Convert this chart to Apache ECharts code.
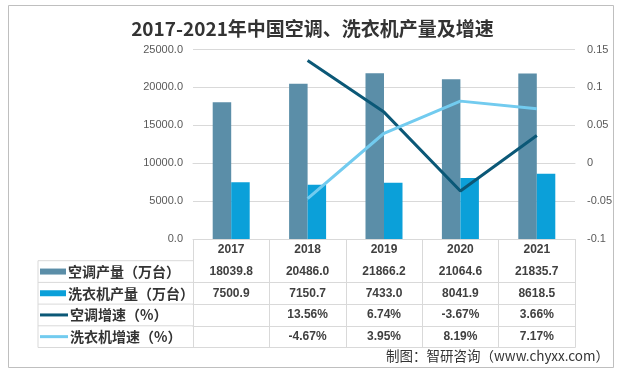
<!DOCTYPE html>
<html>
<head>
<meta charset="utf-8">
<script src="https://cdn.jsdelivr.net/npm/echarts@6/dist/echarts.min.js"></script>
<style>html,body{margin:0;padding:0;background:#fff;}#c{width:625px;height:382px;}</style>
</head>
<body>
<div id="c"></div>
<script>
var categories = ['2017', '2018', '2019', '2020', '2021'];
var acOutput = [18039.8, 20486.0, 21866.2, 21064.6, 21835.7];
var wmOutput = [7500.9, 7150.7, 7433.0, 8041.9, 8618.5];
var acGrowth = [null, 0.1356, 0.0674, -0.0367, 0.0366];
var wmGrowth = [null, -0.0467, 0.0395, 0.0819, 0.0717];
var leftTicks = {min: 0, max: 25000, interval: 5000};
var rightTicks = {min: -0.1, max: 0.15, interval: 0.05};
var seriesNames = ['空调产量（万台）', '洗衣机产量（万台）', '空调增速（%）', '洗衣机增速（%）'];

var colors = ['#5b8ea8', '#0ba0d9', '#0b5877', '#72cbef'];
var gridLeft = 193, gridRight = 50, gridTop = 49.5, gridBottomY = 239;
var rowH = 21.7;
var tableLeft = 38;
var textColor = '#404040';
var lineColor = '#d9d9d9';

function fmtNum(v) { return v == null ? '' : v.toFixed(1); }
function fmtPct(v) { return v == null ? '' : (v * 100).toFixed(2) + '%'; }

var rows = [
  function (i) { return fmtNum(acOutput[i]); },
  function (i) { return fmtNum(wmOutput[i]); },
  function (i) { return fmtPct(acGrowth[i]); },
  function (i) { return fmtPct(wmGrowth[i]); }
];

var labelStyle = {color: textColor, fontWeight: 'bold', fontSize: 12, fontFamily: 'Liberation Sans', lineHeight: 14, margin: 4, interval: 0};

var xAxes = [{
  type: 'category', data: categories, position: 'bottom', gridIndex: 0,
  axisLine: {show: true, lineStyle: {color: lineColor}},
  axisTick: {show: true, length: rowH * 5, lineStyle: {color: lineColor}},
  axisLabel: labelStyle
}];
rows.forEach(function (fn, k) {
  xAxes.push({
    type: 'category', data: categories, position: 'bottom', offset: rowH * (k + 1),
    axisLine: {show: true, lineStyle: {color: lineColor}},
    axisTick: {show: false},
    axisLabel: Object.assign({}, labelStyle, {formatter: function (v, i) { return fn(i); }})
  });
});
xAxes.push({
  type: 'category', data: categories, position: 'bottom', offset: rowH * 5,
  axisLine: {show: true, lineStyle: {color: lineColor}},
  axisTick: {show: false}, axisLabel: {show: false}
});

var legendIcon = [
  {h: 6, w: 26}, {h: 6, w: 26}, {h: 3, w: 28}, {h: 3, w: 28}
];
var legends = seriesNames.map(function (name, k) {
  var center = gridBottomY + rowH * (k + 1) + rowH / 2;
  return {
    data: [{name: name, icon: 'rect'}],
    left: 40, top: center - 8.5, padding: 0,
    itemWidth: legendIcon[k].w, itemHeight: legendIcon[k].h, itemGap: 0,
    selectedMode: false,
    textStyle: {color: '#333', fontSize: 14, fontWeight: 'bold', fontFamily: 'Noto Sans CJK SC', lineHeight: 17, padding: [0, 0, 0, -3]}
  };
});

var graphics = [
  {type: 'rect', shape: {x: 8.5, y: 5.5, width: 605, height: 362}, style: {fill: 'none', stroke: '#bfbfbf', lineWidth: 1}, silent: true, z: -1},
  {type: 'line', shape: {x1: tableLeft, y1: gridBottomY + rowH, x2: tableLeft, y2: gridBottomY + rowH * 5}, style: {stroke: lineColor, lineWidth: 1}, silent: true}
];
for (var r = 1; r <= 5; r++) {
  graphics.push({type: 'line', shape: {x1: tableLeft, y1: gridBottomY + rowH * r, x2: gridLeft + 1, y2: gridBottomY + rowH * r}, style: {stroke: lineColor, lineWidth: 1}, silent: true});
}
graphics.push({
  type: 'text', right: 16, top: 349,
  style: {text: '制图：智研咨询（www.chyxx.com）', fill: '#333', font: '13.5px "Noto Sans CJK SC"'}, silent: true
});

var chart = echarts.init(document.getElementById('c'), null, {renderer: 'canvas'});
chart.setOption({
  animation: false,
  backgroundColor: '#fff',
  title: {
    text: '2017-2021年中国空调、洗衣机产量及增速', left: 'center', top: 14,
    textStyle: {fontSize: 19, fontWeight: 'bold', color: '#333', fontFamily: 'Noto Sans CJK SC'}
  },
  grid: {left: gridLeft, right: gridRight, top: gridTop, bottom: 382 - gridBottomY, containLabel: false},
  legend: legends,
  xAxis: xAxes,
  yAxis: [{
    type: 'value', min: leftTicks.min, max: leftTicks.max, interval: leftTicks.interval,
    axisLine: {show: false}, axisTick: {show: false},
    splitLine: {lineStyle: {color: lineColor}},
    axisLabel: {color: '#595959', fontSize: 11, fontFamily: 'Liberation Sans', margin: 10, formatter: function (v) { return v.toFixed(1); }}
  }, {
    type: 'value', min: rightTicks.min, max: rightTicks.max, interval: rightTicks.interval,
    axisLine: {show: false}, axisTick: {show: false}, splitLine: {show: false},
    axisLabel: {color: '#595959', fontSize: 11, fontFamily: 'Liberation Sans', margin: 12, formatter: function (v) { return String(Math.round(v * 100) / 100); }}
  }],
  graphic: graphics,
  series: [
    {name: seriesNames[0], type: 'bar', data: acOutput, barWidth: 18.5, barGap: '0%', itemStyle: {color: colors[0]}},
    {name: seriesNames[1], type: 'bar', data: wmOutput, barWidth: 18.5, barGap: '0%', itemStyle: {color: colors[1]}},
    {name: seriesNames[2], type: 'line', yAxisIndex: 1, data: acGrowth, showSymbol: false, symbol: 'none', lineStyle: {color: colors[2], width: 3}, itemStyle: {color: colors[2]}},
    {name: seriesNames[3], type: 'line', yAxisIndex: 1, data: wmGrowth, showSymbol: false, symbol: 'none', lineStyle: {color: colors[3], width: 3}, itemStyle: {color: colors[3]}}
  ]
});
</script>
</body>
</html>
